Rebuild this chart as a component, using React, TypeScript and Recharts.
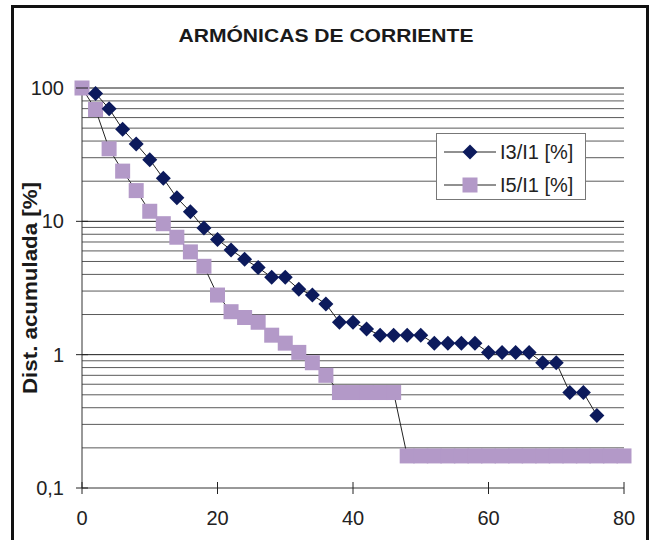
import { LineChart, Line, XAxis, YAxis, CartesianGrid, ReferenceLine, Legend } from 'recharts'

const FONT = '"Liberation Sans", Arial, sans-serif'

// harmonic order (x) for each series
const i3Order = [2, 4, 6, 8, 10, 12, 14, 16, 18, 20, 22, 24, 26, 28, 30, 32, 34, 36, 38, 40, 42, 44, 46, 48, 50, 52, 54, 56, 58, 60, 62, 64, 66, 68, 70, 72, 74, 76]
const i3Values = [91, 70, 49, 38, 29, 21, 15, 11.8, 8.9, 7.3, 6.1, 5.2, 4.5, 3.8, 3.8, 3.1, 2.8, 2.4, 1.75, 1.75, 1.56, 1.4, 1.4, 1.4, 1.4, 1.22, 1.22, 1.22, 1.22, 1.04, 1.04, 1.04, 1.04, 0.87, 0.87, 0.52, 0.52, 0.35]

const i5Order = [0, 2, 4, 6, 8, 10, 12, 14, 16, 18, 20, 22, 24, 26, 28, 30, 32, 34, 36, 38, 40, 42, 44, 46, 48, 50, 52, 54, 56, 58, 60, 62, 64, 66, 68, 70, 72, 74, 76, 78, 80]
const i5Values = [100, 69, 35, 23.8, 17, 11.9, 9.6, 7.6, 5.9, 4.6, 2.8, 2.1, 1.9, 1.75, 1.4, 1.22, 1.04, 0.87, 0.7, 0.52, 0.52, 0.52, 0.52, 0.52, 0.174, 0.174, 0.174, 0.174, 0.174, 0.174, 0.174, 0.174, 0.174, 0.174, 0.174, 0.174, 0.174, 0.174, 0.174, 0.174, 0.174]

const xTicks = [0, 20, 40, 60, 80]
const yMajor = [0.1, 1, 10, 100]
const yMinor = [0.2, 0.3, 0.4, 0.5, 0.6, 0.7, 0.8, 0.9, 2, 3, 4, 5, 6, 7, 8, 9, 20, 30, 40, 50, 60, 70, 80, 90]
const yLabels: Record<number, string> = { 0.1: '0,1', 1: '1', 10: '10', 100: '100' }

const I3_COLOR = '#0c1a5c'
const I5_COLOR = '#b399c8'

const i3Rows = i3Order.map((x, i) => ({ x, v: i3Values[i] }))
const i5Rows = i5Order.map((x, i) => ({ x, v: i5Values[i] }))
const yTicks = [...yMajor, ...yMinor].sort((a, b) => a - b)

function Diamond(props: any) {
  const { cx, cy, index } = props
  if (cx == null || cy == null) return <g key={`d${index}`} />
  const r = 7.5
  return (
    <polygon
      key={`d${index}`}
      points={`${cx},${cy - r} ${cx + r},${cy} ${cx},${cy + r} ${cx - r},${cy}`}
      fill={I3_COLOR}
    />
  )
}

function Square(props: any) {
  const { cx, cy, index } = props
  if (cx == null || cy == null) return <g key={`s${index}`} />
  return <rect key={`s${index}`} x={cx - 7.5} y={cy - 7.5} width={15} height={15} fill={I5_COLOR} />
}

function YTick({ x, y, payload }: any) {
  const label = yLabels[payload.value]
  if (label === undefined) return <g />
  return (
    <g>
      <line x1={x - 6} x2={x + 6} y1={y} y2={y} stroke="#222" />
      <text x={x - 18} y={y} dy="0.35em" textAnchor="end" fontSize={20} fontFamily={FONT} fill="#222">
        {label}
      </text>
    </g>
  )
}

function XTick({ x, y, payload }: any) {
  return (
    <g>
      <line x1={x} x2={x} y1={y - 6} y2={y + 6} stroke="#222" />
      <text x={x} y={y + 30} dy="0.35em" textAnchor="middle" fontSize={20} fontFamily={FONT} fill="#222">
        {payload.value}
      </text>
    </g>
  )
}

function LegendBox() {
  const rows = [
    { name: 'I3/I1 [%]', marker: 'diamond' },
    { name: 'I5/I1 [%]', marker: 'square' },
  ]
  return (
    <div
      style={{
        width: 150,
        height: 67,
        boxSizing: 'border-box',
        border: '1px solid #777',
        background: '#fff',
        fontFamily: FONT,
        fontSize: 20,
        color: '#222',
      }}
    >
      {rows.map((r, i) => (
        <div key={r.name} style={{ position: 'absolute', left: 0, top: i === 0 ? 19 - 11 : 52 - 11, height: 22, display: 'flex', alignItems: 'center' }}>
          <svg width={64} height={22} style={{ display: 'block' }}>
            <line x1={8} x2={60} y1={11} y2={11} stroke="#222" />
            {r.marker === 'diamond' ? (
              <polygon points="34,3.5 41.5,11 34,18.5 26.5,11" fill={I3_COLOR} />
            ) : (
              <rect x={26.5} y={3.5} width={15} height={15} fill={I5_COLOR} />
            )}
          </svg>
          <span style={{ whiteSpace: 'nowrap', lineHeight: '22px' }}>{r.name}</span>
        </div>
      ))}
    </div>
  )
}

export default function App() {
  return (
    <div style={{ position: 'fixed', left: 0, top: 0, width: 649, height: 540, background: '#fff', overflow: 'hidden' }}>
      <div
        style={{
          position: 'absolute',
          left: 11,
          top: 5,
          width: 638,
          height: 600,
          boxSizing: 'border-box',
          border: '3px solid #111',
        }}
      />
      <svg width={649} height={60} style={{ position: 'absolute', left: 0, top: 0 }}>
        <text
          x={326}
          y={42}
          textAnchor="middle"
          fontSize={19}
          fontWeight="bold"
          fontFamily={FONT}
          fill="#1a1a1a"
          textLength={295}
          lengthAdjust="spacingAndGlyphs"
        >
          ARMÓNICAS DE CORRIENTE
        </text>
      </svg>
      <div style={{ position: 'absolute', left: 0, top: 0 }}>
        <LineChart width={649} height={540} margin={{ top: 88, right: 25, bottom: 22, left: 22 }}>
          <CartesianGrid horizontal vertical={false} stroke="#5a5a5a" horizontalValues={yMinor} />
          {yMajor.slice(1).map((v) => (
            <ReferenceLine key={v} y={v} stroke="#1a1a1a" />
          ))}
          <XAxis
            dataKey="x"
            type="number"
            domain={[0, 80]}
            ticks={xTicks}
            height={30}
            tickSize={0}
            tickMargin={0}
            tickLine={false}
            axisLine={{ stroke: '#333' }}
            tick={<XTick />}
          />
          <YAxis
            type="number"
            scale="log"
            domain={[0.1, 100]}
            ticks={yTicks}
            interval={0}
            width={60}
            tickSize={0}
            tickMargin={0}
            tickLine={false}
            axisLine={{ stroke: '#333' }}
            tick={<YTick />}
            label={{
              content: ({ viewBox }: any) => (
                <text
                  x={30}
                  y={viewBox.y + viewBox.height / 2}
                  transform={`rotate(-90, 30, ${viewBox.y + viewBox.height / 2})`}
                  textAnchor="middle"
                  dy="0.35em"
                  fontSize={20}
                  fontWeight="bold"
                  fontFamily={FONT}
                  fill="#1a1a1a"
                  textLength={212}
                  lengthAdjust="spacingAndGlyphs"
                >
                  Dist. acumulada [%]
                </text>
              ),
            }}
          />
          <Legend
            layout="vertical"
            align="center"
            verticalAlign="middle"
            wrapperStyle={{ left: 436, top: 133, width: 150, height: 67 }}
            content={() => <LegendBox />}
          />
          <Line
            data={i5Rows}
            dataKey="v"
            name="I5/I1 [%]"
            type="linear"
            stroke="#222"
            strokeWidth={1}
            dot={Square}
            activeDot={false}
            isAnimationActive={false}
          />
          <Line
            data={i3Rows}
            dataKey="v"
            name="I3/I1 [%]"
            type="linear"
            stroke="#222"
            strokeWidth={1}
            dot={Diamond}
            activeDot={false}
            isAnimationActive={false}
          />
        </LineChart>
      </div>
    </div>
  )
}
